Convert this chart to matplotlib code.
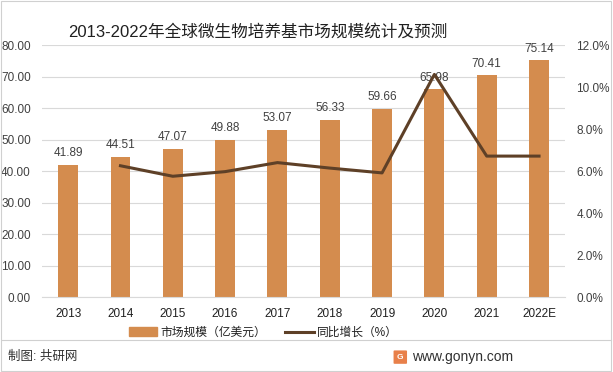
import matplotlib
matplotlib.use("Agg")
import matplotlib.pyplot as plt
from matplotlib.patches import Rectangle, FancyBboxPatch
from matplotlib.lines import Line2D
import numpy as np

plt.rcParams['font.family'] = ['Liberation Sans', 'Noto Sans CJK SC', 'DejaVu Sans']

years = ["2013", "2014", "2015", "2016", "2017", "2018", "2019", "2020", "2021", "2022E"]
market = [41.89, 44.51, 47.07, 49.88, 53.07, 56.33, 59.66, 65.98, 70.41, 75.14]
growth = [None, 6.25, 5.75, 5.97, 6.40, 6.14, 5.91, 10.60, 6.71, 6.71]
left_ticks = [0, 10, 20, 30, 40, 50, 60, 70, 80]
right_ticks = [0, 2, 4, 6, 8, 10, 12]

bar_color = "#D48C4E"
line_color = "#5E4027"
text_color = "#404040"

fig = plt.figure(figsize=(6.13, 3.72), dpi=100)
fig.patch.set_facecolor("white")
fig.add_artist(Rectangle((0.002, 0.003), 0.995, 0.993, transform=fig.transFigure,
                         fill=False, edgecolor="#D0D0D0", linewidth=0.8))

ax = fig.add_axes([0.0685, 0.2016, 0.8535, 0.6774])
x = np.arange(len(years))
ax.bar(x, market, width=0.38, color=bar_color, zorder=2)
for xi, v in zip(x, market):
    ax.text(xi, v + 1.8, f"{v:.2f}", ha="center", va="bottom", fontsize=8.5, color=text_color)
ax.set_ylim(0, 80)
ax.set_xlim(-0.5, len(years) - 0.5)
ax.set_yticks(left_ticks)
ax.set_yticklabels([f"{t:.2f}" for t in left_ticks], fontsize=8.5, color=text_color)
ax.set_xticks(x)
ax.set_xticklabels(years, fontsize=8.5, color="#202020")
ax.grid(axis="y", color="#D9D9D9", linewidth=0.8, zorder=0)
ax.set_axisbelow(True)
for s in ax.spines.values():
    s.set_visible(False)
ax.spines["bottom"].set_visible(True)
ax.spines["bottom"].set_color("#D9D9D9")
ax.tick_params(axis="both", length=0)
ax.tick_params(axis="y", pad=8)
ax.tick_params(axis="x", pad=8)

ax2 = ax.twinx()
gx = [xi for xi, g in zip(x, growth) if g is not None]
gy = [g for g in growth if g is not None]
ax2.plot(gx, gy, color=line_color, linewidth=2.2, zorder=3)
ax2.set_ylim(0, 12)
ax2.set_yticks(right_ticks)
ax2.set_yticklabels([f"{t:.1f}%" for t in right_ticks], fontsize=8.5, color=text_color)
ax2.tick_params(axis="y", length=0, pad=8)
for s in ax2.spines.values():
    s.set_visible(False)

fig.text(0.421, 0.915, "2013-2022年全球微生物培养基市场规模统计及预测", ha="center", va="center",
         fontsize=12, color="#202020")

# legend
handles = [Rectangle((0, 0), 1, 1, color=bar_color),
           Line2D([0], [0], color=line_color, linewidth=2.2)]
fig.legend(handles, ["市场规模（亿美元）", "同比增长（%）"], loc="center",
           bbox_to_anchor=(0.43, 0.105), ncol=2, frameon=False, fontsize=8.5,
           handlelength=2.4, handleheight=0.8, columnspacing=1.6, handletextpad=0.3,
           labelcolor="#202020")

# footer
fig.add_artist(Line2D([0.003, 0.997], [0.085, 0.085], transform=fig.transFigure,
                      color="#D0D0D0", linewidth=0.8))
fig.text(0.013, 0.04, "制图: 共研网", ha="left", va="center", fontsize=9, color="#303030")
fig.add_artist(FancyBboxPatch((0.644, 0.024), 0.018, 0.032, boxstyle="round,pad=0.002",
                              transform=fig.transFigure, facecolor="#E8804A", edgecolor="none"))
fig.text(0.653, 0.04, "G", ha="center", va="center", fontsize=6, color="white", weight="bold")
fig.text(0.672, 0.04, "www.gonyn.com", ha="left", va="center", fontsize=10, color="#303030")

fig.savefig("out.png", dpi=100)
